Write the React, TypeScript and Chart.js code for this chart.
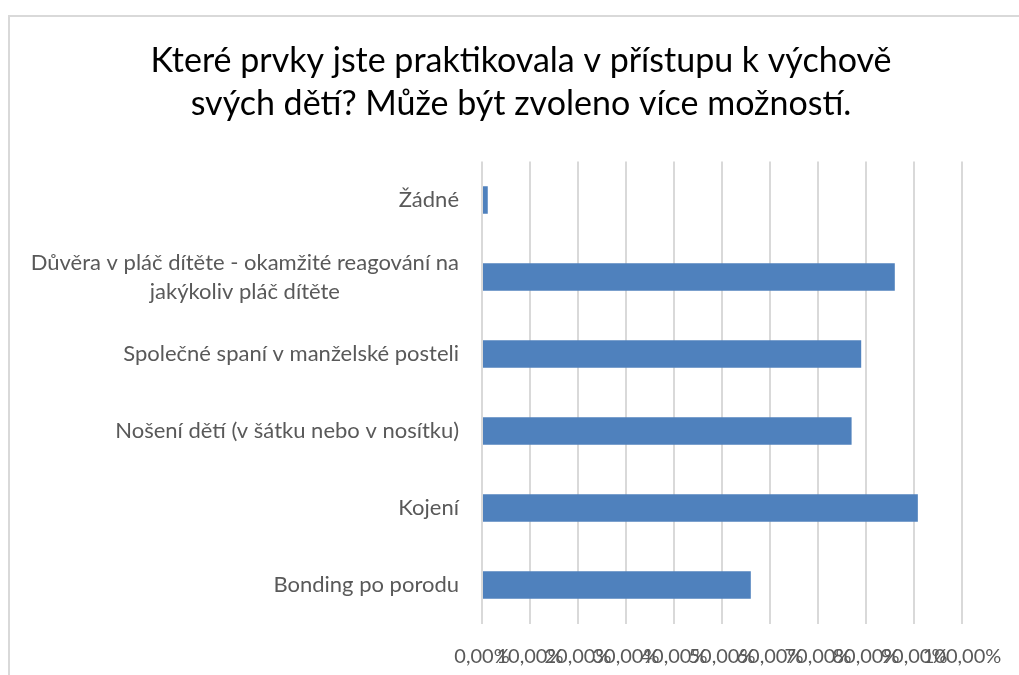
import { useEffect, useRef } from "react";
import { Chart, registerables } from "chart.js";

Chart.register(...registerables);

const categories: string[][] = [
  ["Žádné"],
  ["Důvěra v pláč dítěte - okamžité reagování na", "jakýkoliv pláč dítěte"],
  ["Společné spaní v manželské posteli"],
  ["Nošení dětí (v šátku nebo v nosítku)"],
  ["Kojení"],
  ["Bonding po porodu"],
];
const values = [0.012, 0.86, 0.79, 0.77, 0.908, 0.56];
const titleLines = [
  "Které prvky jste praktikovala v přístupu k výchově",
  "svých dětí? Může být zvoleno více možností.",
];
const xMin = 0;
const xMax = 1;
const xStep = 0.1;

const FONT = "Lato, 'Open Sans', 'Noto Sans', sans-serif";
const LABEL_COLOR = "#595959";

const labelsAndTitle = {
  id: "labelsAndTitle",
  afterDraw(chart: any) {
    const { ctx, chartArea, scales } = chart;
    const y = scales.y;
    ctx.save();
    // title
    ctx.fillStyle = "#000000";
    ctx.font = `34px ${FONT}`;
    ctx.textAlign = "center";
    ctx.textBaseline = "alphabetic";
    titleLines.forEach((t, i) => ctx.fillText(t, 511, 55 + i * 43));
    // category labels
    ctx.fillStyle = LABEL_COLOR;
    ctx.font = `22px ${FONT}`;
    ctx.textBaseline = "middle";
    const right = chartArea.left - 23;
    const lh = 29;
    categories.forEach((lines, i) => {
      const cy = y.getPixelForValue(i);
      const w = Math.max(...lines.map((l) => ctx.measureText(l).width));
      const cx = right - w / 2;
      ctx.textAlign = "center";
      lines.forEach((l, j) => {
        ctx.fillText(l, cx, cy + (j - (lines.length - 1) / 2) * lh);
      });
    });
    ctx.restore();
  },
};

export default function App() {
  const ref = useRef<HTMLCanvasElement>(null);
  useEffect(() => {
    if (!ref.current) return;
    const chart = new Chart(ref.current, {
      type: "bar",
      data: {
        labels: categories.map((c) => c.join(" ")),
        datasets: [
          {
            data: values,
            backgroundColor: "#4f81bd",
            barPercentage: 0.36,
            categoryPercentage: 1,
          },
        ],
      },
      options: {
        indexAxis: "y",
        animation: false,
        responsive: false,
        layout: { padding: { left: 472, right: 57, top: 144.5, bottom: 0 } },
        plugins: {
          legend: { display: false },
          title: { display: false },
          tooltip: { enabled: false },
        },
        scales: {
          y: { display: false },
          x: {
            min: xMin,
            max: xMax,
            afterFit: (s: any) => {
              s.height = 51.5;
            },
            border: { display: false },
            grid: { color: "#d9d9d9", lineWidth: 2, drawTicks: false },
            ticks: {
              stepSize: xStep,
              autoSkip: false,
              maxRotation: 0,
              minRotation: 0,
              padding: 3,
              color: LABEL_COLOR,
              font: { family: FONT, size: 20, lineHeight: 3.05 },
              callback: (v: any) => (Number(v) * 100).toFixed(2).replace(".", ",") + "%",
            },
          },
        },
      },
      plugins: [labelsAndTitle],
    });
    return () => chart.destroy();
  }, []);
  return (
    <div style={{ position: "fixed", left: 0, top: 0, width: 1019, height: 675, overflow: "hidden", background: "#fff" }}>
      <div
        style={{
          position: "absolute",
          left: 8,
          top: 15,
          width: 1009,
          height: 658,
          borderLeft: "2px solid #d9d9d9",
          borderTop: "2px solid #d9d9d9",
          background: "#fff",
        }}
      >
        <canvas ref={ref} width={1009} height={658} style={{ display: "block", width: 1009, height: 658 }} />
      </div>
    </div>
  );
}
